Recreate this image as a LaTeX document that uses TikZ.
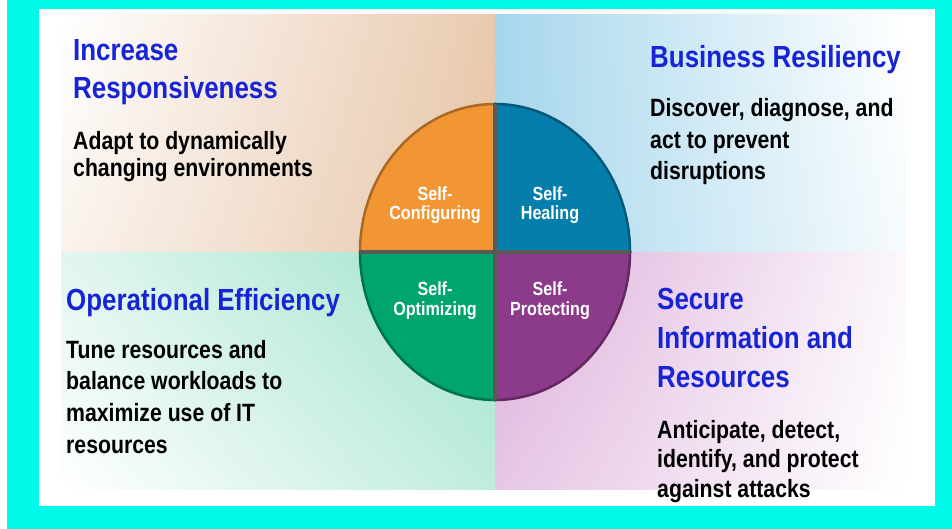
\documentclass[tikz,border=0pt]{standalone}
\usepackage{fontspec}
\setmainfont{Liberation Sans}[FakeStretch=0.85]
\usetikzlibrary{positioning,shadings}

\definecolor{frame}{RGB}{0,250,234}
\definecolor{headblue}{RGB}{22,36,214}
\definecolor{tanbg}{RGB}{230,196,166}
\definecolor{bluebg}{RGB}{166,214,236}
\definecolor{greenbg}{RGB}{158,226,202}
\definecolor{pinkbg}{RGB}{220,174,218}
\definecolor{cfgcol}{RGB}{242,150,52}
\definecolor{healcol}{RGB}{6,126,172}
\definecolor{optcol}{RGB}{0,164,110}
\definecolor{protcol}{RGB}{140,58,138}

\tikzset{
  head/.style={anchor=base west,align=left,inner sep=0,text=headblue},
  body/.style={anchor=base west,align=left,inner sep=0,text=black},
  part/.style={anchor=base,align=center,inner sep=0,text=white,font=\bfseries\fontsize{19}{19.5}\selectfont},
}

\begin{document}
\begin{tikzpicture}[x=1pt,y=-1pt]
	\useasboundingbox (0,0) rectangle (952,529);
	\fill[white] (0,0) rectangle (952,529);
	\fill[frame] (7,0) rectangle (952,529);
	\fill[white] (39,9) rectangle (935,506);
	% background quarters
	\shade[upper left=white,lower left=white!80!tanbg,upper right=tanbg!90!white,lower right=tanbg] (61,15) rectangle (495,252);
	\shade[upper left=bluebg,lower left=bluebg,upper right=white,lower right=white!90!bluebg] (495,15) rectangle (905,252);
	\shade[upper left=white!70!greenbg,lower left=white,upper right=greenbg,lower right=white!35!greenbg] (61,252) rectangle (495,489);
	\shade[upper left=pinkbg,lower left=white!30!pinkbg,upper right=white!90!pinkbg,lower right=white] (495,252) rectangle (905,489);
	% the wheel
	\coordinate (hub) at (495,252);
	\foreach \col/\a in {cfgcol/180,healcol/270,protcol/0,optcol/90}
		\filldraw[fill=\col,draw=\col!70!black,line width=2.5] (hub) -- ++(\a:135 and 148) arc[start angle=\a,delta angle=90,x radius=135,y radius=148] -- cycle;
	\draw[black!65,line width=3.5] (hub) ++(-135,0) -- ++(270,0);
	\draw[black!65,line width=3.5] (hub) ++(0,-148) -- ++(0,296);
	\node[part] (cfg) at (435,220) {Self-\\Configuring};
	\node[part] (heal) at (550,220) {Self-\\Healing};
	\node[part] (opt) at (435,315) {Self-\\Optimizing};
	\node[part] (prot) at (550,315) {Self-\\Protecting};
	% texts (anchored at the last line)
	\node[head,font=\bfseries\fontsize{30.5}{38.5}\selectfont] (resp) at (73,99) {Increase\\Responsiveness};
	\node[body,font=\bfseries\fontsize{25}{27}\selectfont] (adapt) at (73,177) {Adapt to dynamically\\changing environments};
	\node[head,font=\bfseries\fontsize{30.5}{38.5}\selectfont] (resil) at (650,68) {Business Resiliency};
	\node[body,font=\bfseries\fontsize{25}{31.5}\selectfont] (disc) at (650,180) {Discover, diagnose, and\\act to prevent\\disruptions};
	\node[head,font=\bfseries\fontsize{30.5}{38.5}\selectfont] (effic) at (66,310) {Operational Efficiency};
	\node[body,font=\bfseries\fontsize{25}{31.6}\selectfont] (tune) at (66,453) {Tune resources and\\balance workloads to\\maximize use of IT\\resources};
	\node[head,font=\bfseries\fontsize{30.5}{38.7}\selectfont] (secure) at (657,387) {Secure\\Information and\\Resources};
	\node[body,font=\bfseries\fontsize{25}{29.2}\selectfont] (antic) at (657,497) {Anticipate, detect,\\identify, and protect\\against attacks};
\end{tikzpicture}
\end{document}
